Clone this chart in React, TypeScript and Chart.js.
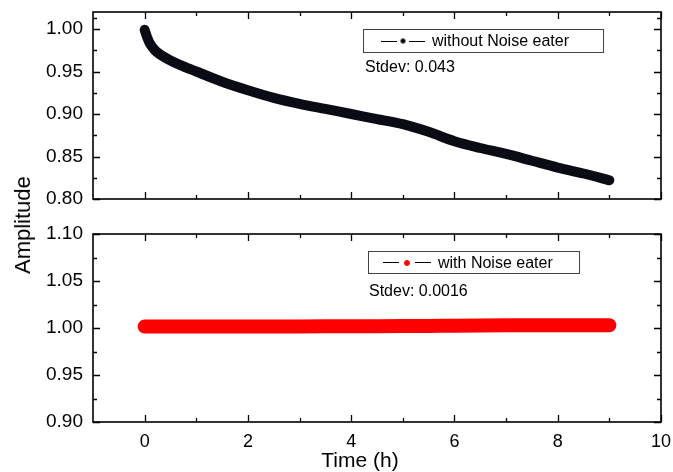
import React, { useEffect, useRef } from "react";
import { Chart, registerables } from "chart.js";

Chart.register(...registerables);

// ---- data ----
const TIME_TOP = [0, 0.05, 0.1, 0.2, 0.3, 0.5, 0.75, 1.0, 1.5, 2.0, 2.5, 3.0, 3.5, 4.0, 4.5, 5.0, 5.5, 6.0, 6.5, 7.0, 7.5, 8.0, 8.5, 9.0];
const WITHOUT_NE = [0.999, 0.990, 0.983, 0.975, 0.970, 0.963, 0.956, 0.950, 0.938, 0.928, 0.919, 0.912, 0.906, 0.900, 0.894, 0.888, 0.879, 0.868, 0.860, 0.853, 0.845, 0.837, 0.830, 0.822];
const TIME_BOT = [0, 1, 2, 3, 4, 5, 5.5, 6, 7, 8, 9];
const WITH_NE = [1.0015, 1.0015, 1.0015, 1.0017, 1.0018, 1.002, 1.0021, 1.0025, 1.0028, 1.003, 1.003];

const X_TICKS = [0, 2, 4, 6, 8, 10];
const X_MINOR = [1, 3, 5, 7, 9];
const TOP_Y_TICKS = [0.8, 0.85, 0.9, 0.95, 1.0];
const TOP_Y_MINOR = [0.825, 0.875, 0.925, 0.975, 1.0125];
const BOT_Y_TICKS = [0.9, 0.95, 1.0, 1.05, 1.1];
const BOT_Y_MINOR = [0.925, 0.975, 1.025, 1.075];

const FONT = "'Liberation Sans', Arial, Helvetica, sans-serif";

const framePlugin = {
  id: "frameTicks",
  afterDraw(chart: any, _args: any, opts: any) {
    const { ctx, chartArea, scales } = chart;
    const { left, right, top, bottom } = chartArea;
    const x = scales.x;
    const y = scales.y;
    ctx.save();
    ctx.strokeStyle = "#000";
    ctx.lineWidth = 1.6;
    ctx.strokeRect(left, top, right - left, bottom - top);
    ctx.lineWidth = 1.3;
    const drawX = (vals: number[], len: number) => {
      vals.forEach((v) => {
        const px = Math.round(x.getPixelForValue(v)) + 0.5;
        ctx.beginPath();
        ctx.moveTo(px, bottom);
        ctx.lineTo(px, bottom - len);
        ctx.moveTo(px, top);
        ctx.lineTo(px, top + len);
        ctx.stroke();
      });
    };
    const drawY = (vals: number[], len: number) => {
      vals.forEach((v) => {
        const py = Math.round(y.getPixelForValue(v)) + 0.5;
        ctx.beginPath();
        ctx.moveTo(left, py);
        ctx.lineTo(left + len, py);
        ctx.moveTo(right, py);
        ctx.lineTo(right - len, py);
        ctx.stroke();
      });
    };
    drawX(X_TICKS, 7);
    drawX(X_MINOR, 4);
    drawY(opts.yMajor, 7);
    drawY(opts.yMinor, 4);
    ctx.restore();
  },
};

function makeConfig(
  xs: number[],
  ys: number[],
  color: string,
  width: number,
  yMin: number,
  yMax: number,
  yTicks: number[],
  yMinor: number[],
  showX: boolean,
  canvasH: number,
  areaBottom: number
): any {
  return {
    type: "scatter",
    data: {
      datasets: [
        {
          data: xs.map((t, i) => ({ x: t, y: ys[i] })),
          showLine: true,
          borderColor: color,
          backgroundColor: color,
          borderWidth: width,
          borderCapStyle: "round",
          borderJoinStyle: "round",
          pointRadius: 0,
          tension: 0.3,
        },
      ],
    },
    options: {
      animation: false,
      responsive: false,
      layout: { padding: { top: 12, right: 12, left: 0, bottom: 0 } },
      plugins: {
        legend: { display: false },
        tooltip: { enabled: false },
        frameTicks: { yMajor: yTicks, yMinor: yMinor },
      },
      scales: {
        x: {
          type: "linear",
          min: -1,
          max: 10,
          grid: { display: false, drawTicks: false },
          border: { display: false },
          afterBuildTicks: (s: any) => {
            s.ticks = X_TICKS.map((v) => ({ value: v }));
          },
          afterFit: (s: any) => {
            s.height = canvasH - areaBottom;
            s.paddingLeft = 0;
            s.paddingRight = 0;
            s.paddingTop = 0;
            s.paddingBottom = 0;
          },
          ticks: {
            display: showX,
            padding: 9,
            color: "#000",
            font: { family: FONT, size: 18 },
          },
        },
        y: {
          type: "linear",
          min: yMin,
          max: yMax,
          grid: { display: false, drawTicks: false },
          border: { display: false },
          afterBuildTicks: (s: any) => {
            s.ticks = yTicks.map((v) => ({ value: v }));
          },
          afterFit: (s: any) => {
            s.width = 93;
            s.paddingTop = 0;
            s.paddingBottom = 0;
            s.paddingLeft = 0;
            s.paddingRight = 0;
          },
          ticks: {
            padding: 10,
            color: "#000",
            font: { family: FONT, size: 19 },
            callback: (v: any) => Number(v).toFixed(2),
          },
        },
      },
    },
    plugins: [framePlugin],
  };
}

function Legend(props: { left: number; top: number; width: number; height: number; label: string; dot: string; dotBorder: string; d1: number; d2: number; gap: number }) {
  const { left, top, width, height, label, dot, dotBorder, d1, d2, gap } = props;
  return (
    <div
      style={{
        position: "absolute",
        left,
        top,
        width,
        height,
        border: "1px solid #444",
        boxSizing: "border-box",
        fontFamily: FONT,
        fontSize: 16,
        color: "#000",
        display: "flex",
        alignItems: "center",
        whiteSpace: "nowrap",
      }}
    >
      <span style={{ display: "inline-block", width: d1, marginLeft: d2, height: 1, background: "#000" }} />
      <span
        style={{
          display: "inline-block",
          width: 6,
          height: 6,
          borderRadius: 3,
          background: dot,
          boxSizing: "border-box",
          border: `1px solid ${dotBorder}`,
          margin: `0 ${gap}px`,
        }}
      />
      <span style={{ display: "inline-block", width: d1, height: 1, background: "#000", marginRight: 7 }} />
      <span>{label}</span>
    </div>
  );
}

export default function App() {
  const topRef = useRef<HTMLCanvasElement | null>(null);
  const botRef = useRef<HTMLCanvasElement | null>(null);

  useEffect(() => {
    const c1 = new Chart(
      topRef.current as HTMLCanvasElement,
      makeConfig(TIME_TOP, WITHOUT_NE, "#0b0b16", 10, 0.8, 1.02, TOP_Y_TICKS, TOP_Y_MINOR, false, 212, 199)
    );
    const c2 = new Chart(
      botRef.current as HTMLCanvasElement,
      makeConfig(TIME_BOT, WITH_NE, "#ff0000", 14, 0.9, 1.1, BOT_Y_TICKS, BOT_Y_MINOR, true, 250, 200)
    );
    return () => {
      c1.destroy();
      c2.destroy();
    };
  }, []);

  return (
    <div style={{ position: "absolute", left: 0, top: 0, width: 673, height: 472, background: "#fff", overflow: "hidden" }}>
      <canvas ref={topRef} width={673} height={212} style={{ position: "absolute", left: 0, top: 0 }} />
      <canvas ref={botRef} width={673} height={250} style={{ position: "absolute", left: 0, top: 222 }} />
      <Legend left={363} top={29} width={241} height={24} label="without Noise eater" dot="#000" dotBorder="#888" d1={16} d2={17} gap={3} />
      <div style={{ position: "absolute", left: 365, top: 58, fontFamily: FONT, fontSize: 16, color: "#000" }}>Stdev: 0.043</div>
      <Legend left={368} top={251} width={212} height={23} label="with Noise eater" dot="#ff0000" dotBorder="#ff0000" d1={16} d2={14} gap={5} />
      <div style={{ position: "absolute", left: 369, top: 282, fontFamily: FONT, fontSize: 16, color: "#000" }}>Stdev: 0.0016</div>
      <div
        style={{
          position: "absolute",
          left: 23,
          top: 225,
          transform: "translate(-50%, -50%) rotate(-90deg)",
          fontFamily: FONT,
          fontSize: 22,
          color: "#000",
          whiteSpace: "nowrap",
        }}
      >
        Amplitude
      </div>
      <div
        style={{
          position: "absolute",
          left: 360,
          top: 460,
          transform: "translate(-50%, -50%)",
          fontFamily: FONT,
          fontSize: 21,
          color: "#000",
          whiteSpace: "nowrap",
        }}
      >
        Time (h)
      </div>
    </div>
  );
}
